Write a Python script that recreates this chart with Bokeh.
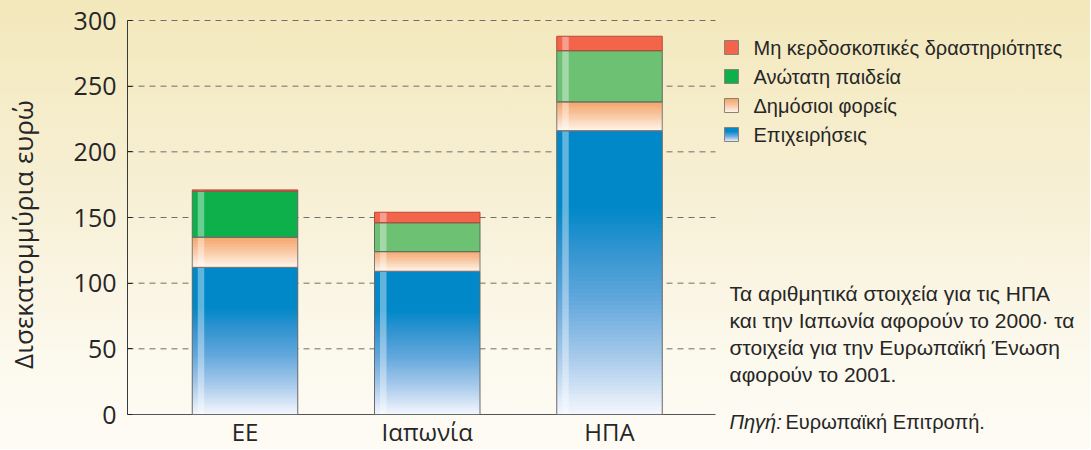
import numpy as np
from bokeh.plotting import figure
from bokeh.models import Range1d, Label, FixedTicker
from bokeh.embed import file_html
from bokeh.resources import INLINE

# ---------------- data ----------------
categories = ["ΕΕ", "Ιαπωνία", "ΗΠΑ"]
business = [112, 109, 216]      # Επιχειρήσεις
public = [23, 15, 22]           # Δημόσιοι φορείς
higher_ed = [35, 22, 39]        # Ανώτατη παιδεία
nonprofit = [1, 8, 11]          # Μη κερδοσκοπικές δραστηριότητες
series_names = ["Επιχειρήσεις", "Δημόσιοι φορείς", "Ανώτατη παιδεία",
                "Μη κερδοσκοπικές δραστηριότητες"]
y_ticks = [0, 50, 100, 150, 200, 250, 300]
y_title = "Δισεκατομμύρια ευρώ"
note_lines = ["Τα αριθμητικά στοιχεία για τις ΗΠΑ",
              "και την Ιαπωνία αφορούν το 2000· τα",
              "στοιχεία για την Ευρωπαϊκή Ένωση",
              "αφορούν το 2001."]
source_head = "Πηγή:"
source_text = "Ευρωπαϊκή Επιτροπή."

# ---------------- styles ----------------
BLUE_STOPS = [(0.0, "#0088c8"), (0.27, "#0088c8"), (0.42, "#3294d0"),
              (0.6, "#63a8dc"), (0.8, "#a8caeb"), (1.0, "#f4f7fd")]
ORANGE_STOPS = [(0.0, "#f4a163"), (0.5, "#f9c8a4"), (1.0, "#fff7f0")]
GREEN_BY_BAR = ["#0db04b", "#6cc173", "#6cc173"]
RED = "#f2654a"
TEXT = "#262626"

# ---------------- geometry (page pixels -> data units) ----------------
X_U0, UX = 153.375, 182.25
Y_V0, VY = 414.0, 394.0 / 300.0
def fx(px): return (px - X_U0) / UX
def fy(py): return (Y_V0 - py) / VY

FL, FR, FT, FB = 127, 1090, 19, 449

def hex2rgb(h):
    h = h.lstrip("#"); return np.array([int(h[i:i + 2], 16) for i in (0, 2, 4)], float)

def grad_color(stops, s):
    for (s0, c0), (s1, c1) in zip(stops[:-1], stops[1:]):
        if s <= s1:
            t = 0 if s1 == s0 else (s - s0) / (s1 - s0)
            c = hex2rgb(c0) * (1 - t) + hex2rgb(c1) * t
            return "#%02x%02x%02x" % tuple(int(round(v)) for v in c)
    return stops[-1][1]

p = figure(frame_width=FR - FL, frame_height=FB - FT,
           min_border_left=FL, min_border_top=FT,
           min_border_right=0, min_border_bottom=0,
           x_range=Range1d(fx(FL), fx(FR)), y_range=Range1d(fy(FB), fy(FT)),
           x_axis_location=None, output_backend="svg", toolbar_location=None)
p.border_fill_color = None
p.background_fill_color = None
p.outline_line_color = None
p.grid.visible = False
p.styles = {"background": "linear-gradient(180deg, #f3e8bb 0%, #f7efd3 40%, #fcf9ee 80%, #fdfbf4 100%)"}

# y axis
ax = p.yaxis[0]
ax.ticker = FixedTicker(ticks=y_ticks)
ax.bounds = (y_ticks[0], y_ticks[-1])
ax.axis_line_color = "#3a3a3a"
ax.major_tick_in = 5
ax.major_tick_out = 0
ax.major_tick_line_color = "#222222"
ax.minor_tick_line_color = None
ax.major_label_text_font = "Open Sans"
ax.major_label_text_font_size = "25px"
ax.major_label_text_color = TEXT
ax.major_label_standoff = 11
ax.axis_label = y_title
ax.axis_label_text_font = "Open Sans"
ax.axis_label_text_font_size = "26px"
ax.axis_label_text_font_style = "normal"
ax.axis_label_text_color = TEXT
ax.axis_label_standoff = 30

# gridlines and baseline (only across the chart area)
grid_end = fx(715)
gy = [t for t in y_ticks if t > 0]
p.segment(x0=[fx(FL)] * len(gy), x1=[grid_end] * len(gy), y0=gy, y1=gy,
          line_color="#6e6e6e", line_width=1, line_dash="6 5")
p.segment(x0=[fx(FL)], x1=[grid_end], y0=[0], y1=[0], line_color="#555555", line_width=1)

# bars
xc = np.arange(len(categories)) + 0.5
bw = 105.5 / UX
stack = np.array([business, public, higher_ed, nonprofit], float)
tops = np.cumsum(stack, axis=0)
bots = tops - stack

def gradient_quads(lefts, rights, bottoms, tops_, stops, n=70):
    L, R, B, T, C = [], [], [], [], []
    for l, r, b, t in zip(lefts, rights, bottoms, tops_):
        h = (t - b) / n
        for k in range(n):
            s = 1 - (k + 0.5) / n
            L.append(l); R.append(r); B.append(b + k * h)
            T.append(min(t, b + (k + 1.8) * h))
            C.append(grad_color(stops, s))
    p.quad(left=L, right=R, bottom=B, top=T, fill_color=C, line_color=None)

lefts = xc - bw / 2
rights = xc + bw / 2
gradient_quads(lefts, rights, bots[0], tops[0], BLUE_STOPS)
gradient_quads(lefts, rights, bots[1], tops[1], ORANGE_STOPS)
p.quad(left=lefts, right=rights, bottom=bots[2], top=tops[2],
       fill_color=GREEN_BY_BAR, line_color=None)
p.quad(left=lefts, right=rights, bottom=bots[3], top=tops[3],
       fill_color=RED, line_color=None)

# light highlight stripe
so, sw = 5.5 / UX, 6.5 / UX
p.quad(left=lefts + so, right=lefts + so + sw, bottom=[0] * len(xc), top=tops[3],
       fill_color="white", fill_alpha=0.38, line_color=None)

# outlines
outline_colors = ["#6a6a6a", "#7a7a7a", "#5f6a60", "#b8493a"]
for si in range(4):
    p.quad(left=lefts, right=rights, bottom=bots[si], top=tops[si],
           fill_color=None, line_color=outline_colors[si], line_width=1)

# category labels
for x, c in zip(xc, categories):
    p.add_layout(Label(x=x, y=fy(431), text=c, text_align="center", text_baseline="middle",
                       text_font="Open Sans", text_font_size="24px", text_color=TEXT))

# legend (top to bottom: non-profit, higher ed, public, business)
leg_rows = [47, 76, 105, 134]
sq_l, sq_r, half = fx(724), fx(738), 7
order = [3, 2, 1, 0]
for row, si in zip(leg_rows, order):
    b, t = fy(row + half), fy(row - half)
    if si == 0:
        gradient_quads([sq_l], [sq_r], [b], [t], BLUE_STOPS, n=14)
    elif si == 1:
        gradient_quads([sq_l], [sq_r], [b], [t], ORANGE_STOPS, n=14)
    else:
        p.quad(left=[sq_l], right=[sq_r], bottom=[b], top=[t],
               fill_color=GREEN_BY_BAR[0] if si == 2 else RED, line_color=None)
    p.quad(left=[sq_l], right=[sq_r], bottom=[b], top=[t], fill_color=None,
           line_color="#8c8078", line_width=1)
    p.add_layout(Label(x=fx(753), y=fy(row), text=series_names[si], text_baseline="middle",
                       text_font="Liberation Sans", text_font_size="20px", text_color=TEXT))

# note
for row, line in zip([293, 320, 347, 374], note_lines):
    p.add_layout(Label(x=fx(729), y=fy(row), text=line, text_baseline="middle",
                       text_font="Liberation Sans", text_font_size="21px", text_color=TEXT))
p.add_layout(Label(x=fx(729), y=fy(421), text=source_head, text_baseline="middle",
                   text_font="Liberation Sans", text_font_style="italic",
                   text_font_size="20px", text_color=TEXT))
p.add_layout(Label(x=fx(785), y=fy(421), text=source_text, text_baseline="middle",
                   text_font="Liberation Sans", text_font_size="20px", text_color=TEXT))

open("out.html", "w").write(file_html(p, INLINE))
